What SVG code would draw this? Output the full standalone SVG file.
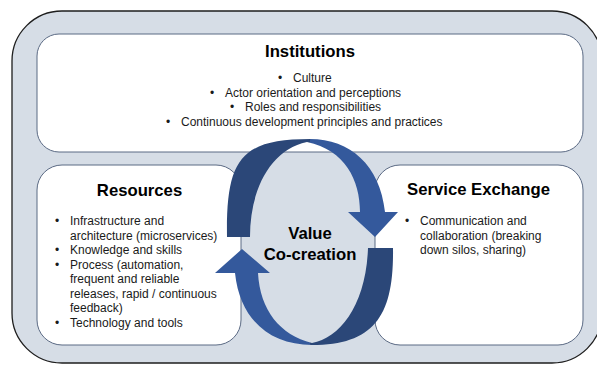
<svg xmlns="http://www.w3.org/2000/svg" width="597" height="365" viewBox="0 0 597 365">
<style>
.box{fill:#ffffff;stroke:#5b6a84;stroke-width:1}
.title{font-family:"Liberation Sans",Arial,sans-serif;font-weight:bold;font-size:16.7px;fill:#000;text-anchor:middle}
.body{font-family:"Liberation Sans",Arial,sans-serif;font-size:12px;fill:#1a1a1a}
</style>
<defs>
<linearGradient id="gTop" gradientUnits="userSpaceOnUse" x1="300" y1="0" x2="320" y2="0">
<stop offset="0.5" stop-color="#2b4778"/><stop offset="0.5" stop-color="#34599c"/>
</linearGradient>
<linearGradient id="gBot" gradientUnits="userSpaceOnUse" x1="300" y1="0" x2="320" y2="0">
<stop offset="0.5" stop-color="#34599c"/><stop offset="0.5" stop-color="#2b4778"/>
</linearGradient>
</defs>
<rect id="background" x="12" y="11" width="590" height="352" rx="50" fill="#d6dde6" stroke="#1e1e1e" stroke-width="1.3"/>
<g id="institutions">
<rect class="box" x="37" y="34" width="546" height="118" rx="22"/>
<text class="title" x="310" y="56.5">Institutions</text>
<text class="body" x="278" y="82">•</text><text class="body" x="293" y="82">Culture</text>
<text class="body" x="210" y="96.5">•</text><text class="body" x="225" y="96.5">Actor orientation and perceptions</text>
<text class="body" x="230" y="111">•</text><text class="body" x="245" y="111">Roles and responsibilities</text>
<text class="body" x="166" y="125.5">•</text><text class="body" x="181" y="125.5">Continuous development principles and practices</text>
</g>
<g id="resources">
<rect class="box" x="37" y="165" width="204" height="180" rx="25"/>
<text class="title" x="139.5" y="196">Resources</text>
<text class="body" x="55" y="225">•</text><text class="body" x="70" y="225">Infrastructure and</text>
<text class="body" x="70" y="239.5">architecture (microservices)</text>
<text class="body" x="55" y="254">•</text><text class="body" x="70" y="254">Knowledge and skills</text>
<text class="body" x="55" y="268.5">•</text><text class="body" x="70" y="268.5">Process (automation,</text>
<text class="body" x="70" y="283">frequent and reliable</text>
<text class="body" x="70" y="297.5">releases, rapid / continuous</text>
<text class="body" x="70" y="312">feedback)</text>
<text class="body" x="55" y="326.5">•</text><text class="body" x="70" y="326.5">Technology and tools</text>
</g>
<g id="service-exchange">
<rect class="box" x="375" y="165" width="208" height="180" rx="25"/>
<text class="title" x="478.5" y="195">Service Exchange</text>
<text class="body" x="405" y="225">•</text><text class="body" x="420" y="225">Communication and</text>
<text class="body" x="420" y="239.5">collaboration (breaking</text>
<text class="body" x="420" y="254">down silos, sharing)</text>
</g>
<g id="connectors">
<path id="arrow-top" fill="url(#gTop)" d="M227,237 C226,160 240,139 310,139 C350,139 380,165 385,212 L398,212 L375,237 L348,212 L360,212 C360,180 345,150 307,142 C270,150 250,190 250,237 Z"/>
<path id="arrow-bottom" fill="url(#gBot)" d="M393,248 C394,315 375,345 312,345 C270,345 240,320 235,273 L215,273 L242,249 L270,273 L258,273 C260,310 280,335 312,343 C340,338 366,305 368,248 Z"/>
</g>
<g id="value-co-creation">
<text class="title" x="310" y="239">Value</text>
<text class="title" x="310" y="260">Co-creation</text>
</g>
</svg>
